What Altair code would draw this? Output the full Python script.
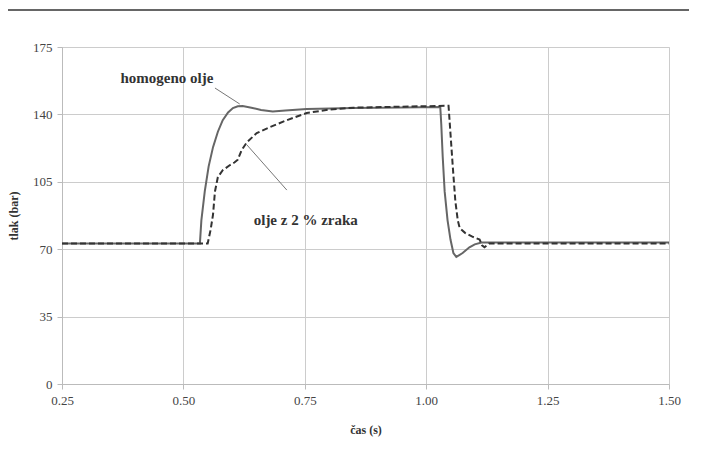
import altair as alt
import pandas as pd

# homogeno olje (solid)
t_h = [0.25, 0.534, 0.537, 0.544, 0.552, 0.561, 0.571, 0.581, 0.592, 0.602, 0.612,
       0.622, 0.640, 0.660, 0.684, 0.710, 0.754, 0.85, 0.95, 1.029, 1.031, 1.034,
       1.038, 1.044, 1.050, 1.056, 1.062, 1.075, 1.089, 1.100, 1.114, 1.13, 1.50]
p_h = [73, 73, 85, 100, 113, 123, 131, 137, 141, 143.3, 144.2,
       144.3, 143.5, 142.3, 141.5, 142, 142.8, 143.3, 143.6, 143.8, 135, 118,
       100, 85, 75, 68, 66, 68, 71, 72.5, 73.5, 73.5, 73.5]

# olje z 2 % zraka (dashed)
t_a = [0.25, 0.550, 0.556, 0.561, 0.565, 0.571, 0.581, 0.596, 0.605, 0.612, 0.620,
       0.631, 0.651, 0.678, 0.713, 0.754, 0.80, 0.85, 0.95, 1.046, 1.050, 1.055,
       1.060, 1.065, 1.069, 1.080, 1.095, 1.110, 1.115, 1.120, 1.13, 1.50]
p_a = [73, 73, 80, 88, 100, 107.5, 111, 113.7, 115, 116.5, 121.5,
       125.6, 130.3, 133.4, 137, 140.7, 142.5, 143.5, 144, 144.5, 130, 112,
       95, 85, 81, 78.5, 76.5, 75, 72, 71, 73, 73]

x_ticks = [0.25, 0.50, 0.75, 1.00, 1.25, 1.50]
y_ticks = [0, 35, 70, 105, 140, 175]

labels = ["homogeno olje", "olje z 2 % zraka"]
label_x = [0.466, 0.752]
label_y = [158.9, 85.2]
lead_x = [0.565, 0.713]
lead_y = [153.7, 100.7]
lead_x2 = [0.616, 0.631]
lead_y2 = [145.4, 124.1]

FONT = "Liberation Serif, Times New Roman, serif"

df_h = pd.DataFrame({"t": t_h, "p": p_h})
df_a = pd.DataFrame({"t": t_a, "p": p_a})
df_lab = pd.DataFrame({"label": labels, "x": label_x, "y": label_y})
df_lead = pd.DataFrame({"x": lead_x, "y": lead_y, "x2": lead_x2, "y2": lead_y2})

xs = alt.Scale(domain=[0.25, 1.5], nice=False, zero=False)
ys = alt.Scale(domain=[0, 175], nice=False)

xax = alt.Axis(values=x_ticks, format=".2f", title="čas (s)", grid=True,
               gridColor="#cccccc", domainColor="#bbbbbb", tickColor="#bbbbbb",
               tickSize=5, labelFont=FONT, labelFontSize=13, labelColor="#444444",
               labelPadding=5, titleFont=FONT, titleFontSize=12, titleFontWeight="bold",
               titleColor="#333333", titlePadding=17, labelFlush=False)
yax = alt.Axis(values=y_ticks, title="tlak (bar)", grid=True,
               gridColor="#cccccc", domainColor="#bbbbbb", tickColor="#bbbbbb",
               tickSize=5, labelFont=FONT, labelFontSize=13, labelColor="#444444",
               labelPadding=5, titleFont=FONT, titleFontSize=12, titleFontWeight="bold",
               titleColor="#333333", titlePadding=12)

base_h = alt.Chart(df_h).mark_line(color="#666666", strokeWidth=2).encode(
    x=alt.X("t:Q", scale=xs, axis=xax),
    y=alt.Y("p:Q", scale=ys, axis=yax),
)
line_a = alt.Chart(df_a).mark_line(color="#333333", strokeWidth=2, strokeDash=[6, 3]).encode(
    x=alt.X("t:Q", scale=xs),
    y=alt.Y("p:Q", scale=ys),
)
leads = alt.Chart(df_lead).mark_rule(color="#777777", strokeWidth=1).encode(
    x=alt.X("x:Q", scale=xs), y=alt.Y("y:Q", scale=ys),
    x2="x2:Q", y2="y2:Q",
)
texts = alt.Chart(df_lab).mark_text(font=FONT, fontSize=15, fontWeight="bold",
                                    color="#333333").encode(
    x=alt.X("x:Q", scale=xs), y=alt.Y("y:Q", scale=ys), text="label:N",
)
topline = alt.Chart(pd.DataFrame({"a": [0]})).mark_rule(color="#333333", strokeWidth=1.5).encode(
    x=alt.value(-54), x2=alt.value(640), y=alt.value(-37),
)

chart = alt.layer(base_h, line_a, leads, texts, topline).properties(
    width=607, height=337,
    autosize=alt.AutoSizeParams(type="none"),
    padding={"left": 54, "top": 39, "right": 20, "bottom": 62},
).configure_view(stroke=None).configure(background="white")

chart.save("out.html", embed_options={"renderer": "svg", "actions": False})
